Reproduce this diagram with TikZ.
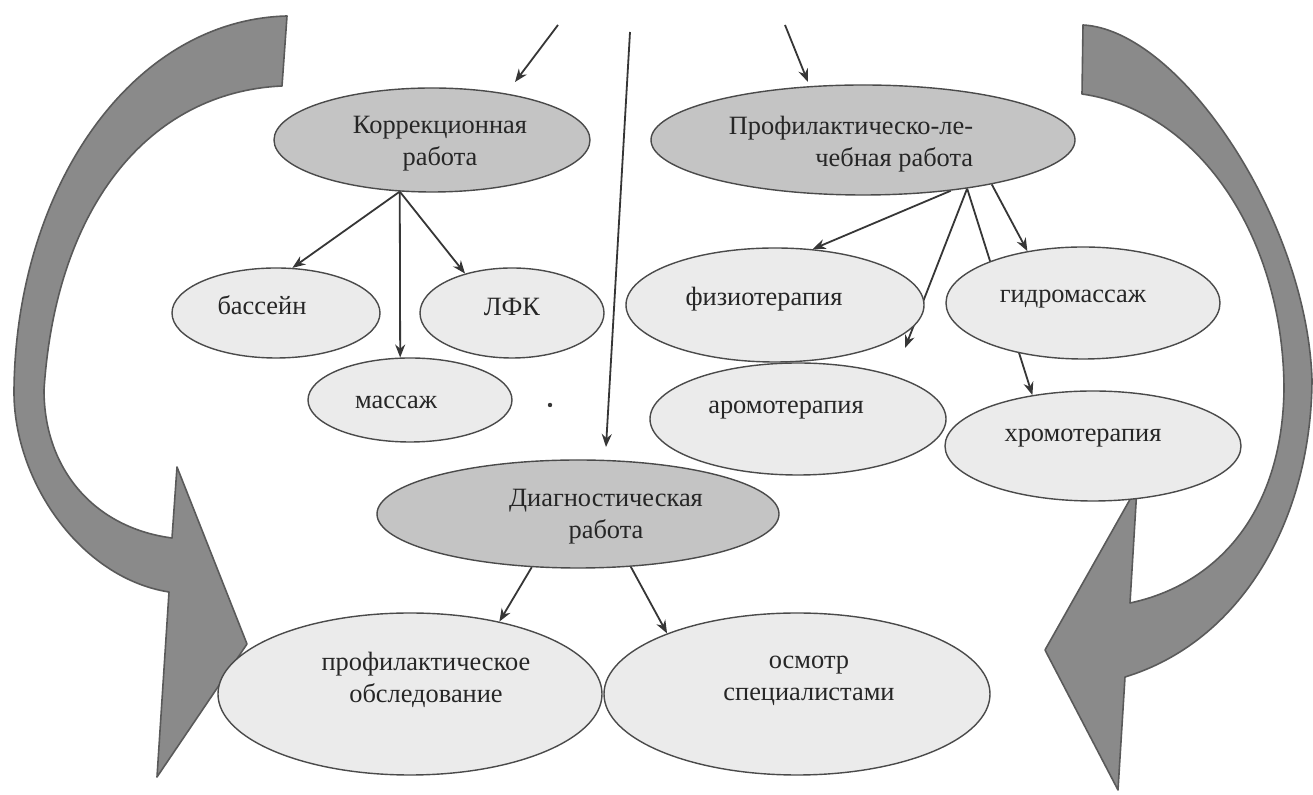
\documentclass[tikz,border=0pt]{standalone}
\usepackage{fontspec}
\setmainfont{Liberation Serif}
\usetikzlibrary{shapes.geometric,arrows.meta}
\pgfdeclarelayer{bg}
\pgfsetlayers{bg,main}
\definecolor{bigarrow}{HTML}{8A8A8A}
\definecolor{bigedge}{HTML}{5A5A5A}
\definecolor{topfill}{HTML}{C4C4C4}
\definecolor{subfill}{HTML}{EBEBEB}
\definecolor{ellline}{HTML}{4A4A4A}
\definecolor{connc}{HTML}{363636}
\definecolor{txtc}{HTML}{262626}
\begin{document}
\begin{tikzpicture}[x=0.5pt,y=-0.5pt,
  ellbase/.style={ellipse, draw=ellline, line width=0.7pt, inner sep=0pt},
  sz/.style 2 args={minimum width=#1pt, minimum height=#2pt},
  topell/.style={ellbase, fill=topfill},
  subell/.style={ellbase, fill=subfill},
  txt/.style={text=txtc, font=\fontsize{13.2}{16}\selectfont, align=center, inner sep=0pt},
  link/.style={draw=connc, line width=0.9pt, -{Stealth[length=6.5pt,width=5pt]}},
  big/.style={fill=bigarrow, draw=bigedge, line width=0.8pt, line join=round}
]
\useasboundingbox (0,0) rectangle (1313,795);

% ellipses
\node[topell, sz={158}{52}] (korr) at (432,140) {};
\node[topell, sz={212}{55}] (prof) at (863,140) {};
\node[subell, sz={104}{45}] (bass) at (276,313) {};
\node[subell, sz={92}{45}]  (lfk)  at (512,313) {};
\node[subell, sz={102}{42}] (mass) at (410,400) {};
\node[subell, sz={149}{57}] (fizio) at (775,305) {};
\node[subell, sz={148}{56}] (aromo) at (798,419) {};
\node[subell, sz={148}{55}] (hromo) at (1093,446) {};
\node[subell, sz={137}{56}] (gidro) at (1083,303) {};
\node[topell, sz={201}{54}] (diag) at (578,514) {};
\node[subell, sz={192}{81}] (obs) at (410,694) {};
\node[subell, sz={193}{81}] (osm) at (797,694) {};

% texts
\node[txt] (korrT) at (440,144) {Коррекционная\\работа};
\node[txt, align=right] (profT) at (851,144) {Профилактическо-ле-\\чебная работа};
\node[txt] (bassT) at (262,305) {бассейн};
\node[txt] (lfkT) at (512,307) {ЛФК};
\node[txt] (massT) at (396,402) {массаж};
\node[txt] (fizioT) at (764,299) {физиотерапия};
\node[txt] (gidroT) at (1073,299) {гидромассаж};
\node[txt] (aromoT) at (786,410) {аромотерапия};
\node[txt] (hromoT) at (1083,438) {хромотерапия};
\node[txt] (diagT) at (606,517) {Диагностическая\\работа};
\node[txt] (obsT) at (426,680) {профилактическое\\обследование};
\node[txt] (osmT) at (809,681) {осмотр\\специалистами};

% free ends
\coordinate (tlS) at (558,25);
\coordinate (tlE) at (515,82);
\coordinate (trS) at (785,25);
\coordinate (trE) at (808,82);
\coordinate (vS) at (630,32);
\coordinate (vE) at (606,447);
\coordinate (aromoE) at (905,348);

\fill[connc] (550,405) circle (2.2);

\begin{pgfonlayer}{bg}
  \fill[white] (0,0) rectangle (1313,795);
  % big curved arrows
  \path[big] (287,16) .. controls (130,20) and (16,190) .. (14,390)
    .. controls (13,480) and (80,578) .. (169,592)
    -- (157,777) -- (247,644) -- (177,467) -- (172,538)
    .. controls (95,528) and (44,470) .. (44,390)
    .. controls (56,205) and (150,92) .. (282,86) -- cycle;
  \path[big] (1083,25) .. controls (1180,30) and (1307,220) .. (1312,380)
    .. controls (1311,522) and (1240,642) .. (1125,677)
    -- (1118,790) -- (1045,650) -- (1137,487) -- (1130,603)
    .. controls (1215,585) and (1282,515) .. (1284,390)
    .. controls (1284,245) and (1205,112) .. (1082,94) -- cycle;

  % connectors
  \draw[link] (tlS) -- (tlE);
  \draw[link] (trS) -- (trE);
  \draw[link] (vS) -- (vE);
  \draw[link] (korr.238) -- (bass.70);
  \draw[link] (korr.238) -- (mass.103);
  \draw[link] (korr.238) -- (lfk.140);
  \draw[link] (prof.330) -- (fizio.56);
  \draw[link] (prof.335) -- (aromoE);
  \draw[link] (prof.335) -- (hromo.140);
  \draw[link] (prof.341) -- (gidro.137);
  \draw[link] (diag.229.5) -- (obs.39.7);
  \draw[link] (diag.315) -- (osm.155);
\end{pgfonlayer}
\end{tikzpicture}
\end{document}
